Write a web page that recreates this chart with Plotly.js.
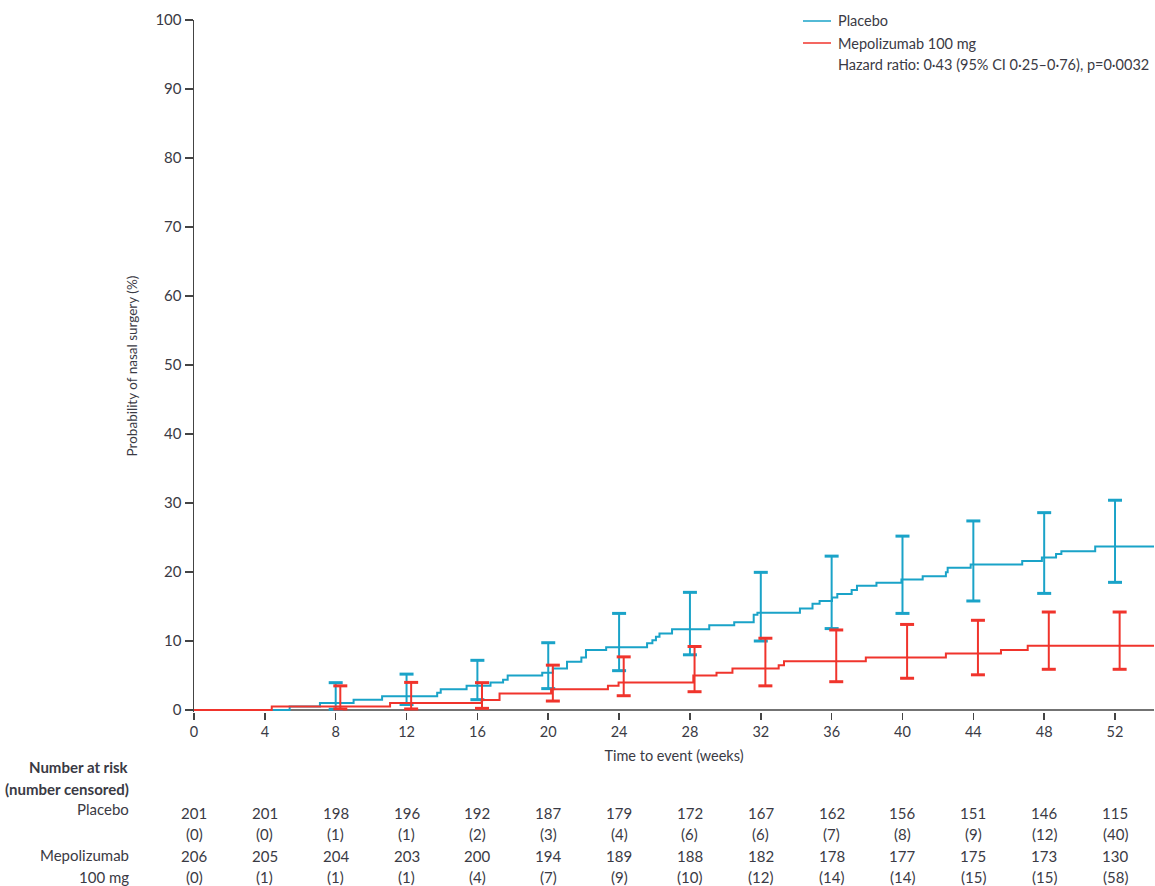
<!DOCTYPE html>
<html>
<head>
<meta charset="utf-8">
<script src="https://cdn.plot.ly/plotly-3.0.1.min.js"></script>
<style>
  html, body { margin: 0; padding: 0; background: #ffffff; }
  #chart { width: 1155px; height: 886px; }
</style>
</head>
<body>
<div id="chart"></div>
<script>
// ---------------- DATA ----------------
const seriesNames = ["Placebo", "Mepolizumab 100 mg"];
const hazardText = "Hazard ratio: 0·43 (95% CI 0·25–0·76), p=0·0032";

// Kaplan-Meier step curves (weeks, % with nasal surgery)
const placeboTime = [0, 5.40, 7.11, 9.01, 10.62, 13.73, 13.93, 15.39, 16.74, 17.45, 17.71, 19.66, 20.26, 21.06, 21.87, 22.13, 23.27, 25.58, 25.88, 26.08, 26.28, 26.99, 29.09, 30.50, 31.60, 31.81, 34.21, 34.92, 35.32, 36.02, 36.32, 37.13, 37.43, 38.53, 39.94, 41.14, 42.45, 42.55, 43.85, 46.76, 47.87, 48.67, 48.97, 50.88, 54.2];
const placeboPct  = [0, 0.5, 1.0, 1.5, 2.0, 2.5, 3.0, 3.5, 4.0, 4.4, 5.0, 5.4, 6.0, 7.0, 7.6, 8.7, 9.1, 9.66, 10.1, 10.6, 11.1, 11.7, 12.3, 12.7, 13.8, 14.1, 14.7, 15.4, 15.8, 16.3, 16.8, 17.4, 18.0, 18.45, 18.9, 19.4, 19.95, 20.6, 21.1, 21.6, 22.1, 22.6, 23.0, 23.7, 23.7];

const mepoTime = [0, 4.39, 11.07, 16.24, 17.25, 20.16, 23.37, 23.97, 28.19, 29.50, 30.40, 33.01, 33.31, 37.93, 42.45, 45.56, 47.07, 54.2];
const mepoPct  = [0, 0.5, 1.0, 1.45, 2.4, 3.0, 3.5, 4.0, 5.0, 5.4, 6.0, 6.5, 7.05, 7.6, 8.2, 8.7, 9.3, 9.3];

// 95% CI bars
const ciWeeks = [8, 12, 16, 20, 24, 28, 32, 36, 40, 44, 48, 52];
const placeboLower = [0.1, 0.8, 1.5, 3.1, 5.7, 8.0, 10.0, 11.8, 14.0, 15.8, 16.9, 18.5];
const placeboUpper = [3.96, 5.2, 7.2, 9.75, 14.0, 17.05, 19.95, 22.3, 25.2, 27.4, 28.6, 30.4];
const mepoLower = [0.15, 0.15, 0.24, 1.3, 2.07, 2.65, 3.5, 4.1, 4.6, 5.1, 5.9, 5.9];
const mepoUpper = [3.5, 4.0, 3.96, 6.5, 7.7, 9.2, 10.4, 11.6, 12.4, 13.0, 14.2, 14.2];

// Number at risk table
const riskWeeks = [0, 4, 8, 12, 16, 20, 24, 28, 32, 36, 40, 44, 48, 52];
const placeboAtRisk   = [201, 201, 198, 196, 192, 187, 179, 172, 167, 162, 156, 151, 146, 115];
const placeboCensored = [0, 0, 1, 1, 2, 3, 4, 6, 6, 7, 8, 9, 12, 40];
const mepoAtRisk      = [206, 205, 204, 203, 200, 194, 189, 188, 182, 178, 177, 175, 173, 130];
const mepoCensored    = [0, 1, 1, 1, 4, 7, 9, 10, 12, 14, 14, 15, 15, 58];

const xTickVals = [0, 4, 8, 12, 16, 20, 24, 28, 32, 36, 40, 44, 48, 52];
const yTickVals = [0, 10, 20, 30, 40, 50, 60, 70, 80, 90, 100];

// ---------------- STYLE ----------------
const BLUE = "#1aa3c8";
const RED = "#f0342c";
const TEXT = "#3a3a44";
const AXIS = "#444444";
const FONT = "Lato, 'Noto Sans', sans-serif";

const W = 1155, H = 886;
const M = { l: 194, r: 1, t: 20, b: 174 };
const plotW = W - M.l - M.r, plotH = H - M.t - M.b;
const Y_MIN = -0.29; // small pad so the curves lying on 0 are not clipped
const px2x = px => (px - M.l) / plotW;
const py2y = py => (H - M.b - py) / plotH;

function ciTrace(weeks, lo, hi, offset, color) {
  const xs = [], ys = [];
  weeks.forEach((w, i) => {
    xs.push(w + offset, w + offset, null);
    ys.push(lo[i], hi[i], null);
  });
  return {
    x: xs, y: ys, type: "scatter", mode: "lines+markers",
    line: { color: color, width: 2 },
    marker: { symbol: "line-ew", size: 10, line: { color: color, width: 3 } },
    connectgaps: false, cliponaxis: false, showlegend: false, hoverinfo: "skip"
  };
}

const traces = [
  { x: placeboTime, y: placeboPct, type: "scatter", mode: "lines", name: seriesNames[0],
    line: { color: BLUE, width: 2, shape: "hv" }, cliponaxis: false, showlegend: false },
  ciTrace(ciWeeks, placeboLower, placeboUpper, 0, BLUE),
  { x: mepoTime, y: mepoPct, type: "scatter", mode: "lines", name: seriesNames[1],
    line: { color: RED, width: 2, shape: "hv" }, cliponaxis: false, showlegend: false },
  ciTrace(ciWeeks, mepoLower, mepoUpper, 0.26, RED)
];

// annotations
const ann = [];
const tableFont = { size: 15, color: TEXT };
const rowY = { placebo: 813, placeboC: 834, mepo: 856, mepoC: 877 };
riskWeeks.forEach((w, i) => {
  ann.push({ x: w, xref: "x", y: py2y(rowY.placebo), yref: "paper", text: String(placeboAtRisk[i]), showarrow: false, xanchor: "center", yanchor: "middle", font: tableFont });
  ann.push({ x: w, xref: "x", y: py2y(rowY.placeboC), yref: "paper", text: "(" + placeboCensored[i] + ")", showarrow: false, xanchor: "center", yanchor: "middle", font: tableFont });
  ann.push({ x: w, xref: "x", y: py2y(rowY.mepo), yref: "paper", text: String(mepoAtRisk[i]), showarrow: false, xanchor: "center", yanchor: "middle", font: tableFont });
  ann.push({ x: w, xref: "x", y: py2y(rowY.mepoC), yref: "paper", text: "(" + mepoCensored[i] + ")", showarrow: false, xanchor: "center", yanchor: "middle", font: tableFont });
});
const labelX = px2x(131);
[
  ["<b>Number at risk</b>", 767],
  ["<b>(number censored)</b>", 789],
  ["Placebo", 809],
  ["Mepolizumab", 855],
  ["100 mg", 877]
].forEach(([t, y]) => ann.push({ x: labelX, xref: "paper", y: py2y(y), yref: "paper", text: t, showarrow: false, xanchor: "right", yanchor: "middle", font: tableFont }));

// legend (manual)
const legFont = { size: 14.5, color: TEXT };
const legTextX = px2x(836);
ann.push({ x: legTextX, xref: "paper", y: py2y(21), yref: "paper", text: seriesNames[0], showarrow: false, xanchor: "left", yanchor: "middle", font: legFont });
ann.push({ x: legTextX, xref: "paper", y: py2y(43), yref: "paper", text: seriesNames[1], showarrow: false, xanchor: "left", yanchor: "middle", font: legFont });
ann.push({ x: legTextX, xref: "paper", y: py2y(65), yref: "paper", text: hazardText, showarrow: false, xanchor: "left", yanchor: "middle", font: legFont });

const shapes = [
  // x-axis line drawn beneath the curves
  { type: "line", xref: "paper", yref: "y", x0: 0, x1: 1, y0: 0, y1: 0, layer: "below", line: { color: AXIS, width: 1.5 } },
  { type: "line", xref: "paper", yref: "paper", x0: px2x(803), x1: px2x(831), y0: py2y(21), y1: py2y(21), line: { color: BLUE, width: 1.5 } },
  { type: "line", xref: "paper", yref: "paper", x0: px2x(803), x1: px2x(831), y0: py2y(43), y1: py2y(43), line: { color: RED, width: 1.5 } }
];

const layout = {
  width: W, height: H,
  margin: M,
  paper_bgcolor: "#ffffff", plot_bgcolor: "#ffffff",
  font: { family: FONT, size: 14, color: TEXT },
  showlegend: false,
  xaxis: {
    range: [0, 54.2], tickvals: xTickVals, ticktext: xTickVals.map(String),
    showgrid: false, zeroline: false, showline: false,
    ticks: "outside", ticklen: 7, tickwidth: 1.5, tickcolor: AXIS,
    tickfont: { size: 14.5, color: TEXT },
    title: { text: "Time to event (weeks)", font: { size: 14.5, color: TEXT }, standoff: 11 }
  },
  yaxis: {
    range: [Y_MIN, 100], tickvals: yTickVals, ticktext: yTickVals.map(String),
    showgrid: false, zeroline: false, showline: true, linecolor: AXIS, linewidth: 1.5,
    ticks: "outside", ticklen: 8, tickwidth: 1.5, tickcolor: AXIS,
    tickfont: { size: 15, color: TEXT }, layer: "below traces",
    title: { text: "Probability of nasal surgery (%)", font: { size: 13.5, color: TEXT }, standoff: 14 }
  },
  annotations: ann,
  shapes: shapes
};

Plotly.newPlot("chart", traces, layout, { displayModeBar: false, staticPlot: true });
</script>
</body>
</html>
